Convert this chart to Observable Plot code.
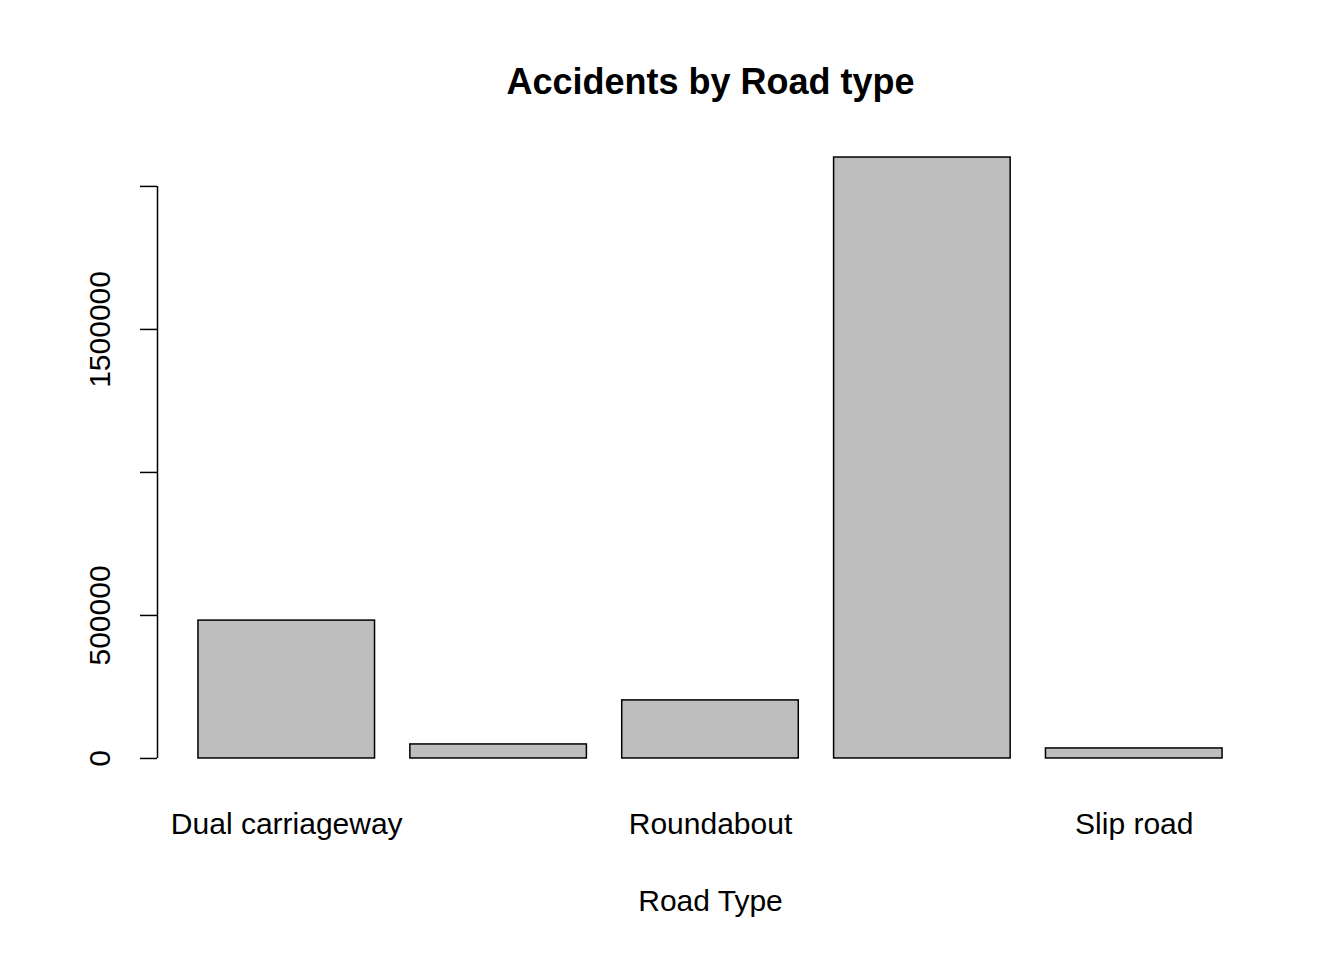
<!DOCTYPE html>
<html>
<head>
<meta charset="utf-8">
<script src="https://cdn.jsdelivr.net/npm/d3@7"></script>
<script src="https://cdn.jsdelivr.net/npm/@observablehq/plot@0.6"></script>
<style>
  body { margin: 0; background: #fff; }
</style>
</head>
<body>
<div id="chart"></div>
<script>
const roadTypes = ['Dual carriageway', 'One way street', 'Roundabout', 'Single carriageway', 'Slip road'];
const accidents = [482000, 49000, 203000, 2101000, 35000];
const yTicks = [0, 500000, 1000000, 1500000, 2000000];
const yTickLabels = ['0', '500000', '1500000'];
const shownLabels = ['Dual carriageway', 'Roundabout', 'Slip road'];

// R barplot layout: bar width 1, space 0.2
const data = roadTypes.map((t, i) => ({
  type: t,
  value: accidents[i],
  x1: 0.2 + i * 1.2,
  x2: 1.2 + i * 1.2,
  mid: 0.7 + i * 1.2
}));

const font = "'Liberation Sans', Arial, sans-serif";

const chart = Plot.plot({
  width: 1344,
  height: 960,
  marginLeft: 157,
  marginRight: 81,
  marginTop: 133,
  marginBottom: 178,
  style: { background: '#fff', color: '#000', fontFamily: font, fontSize: '30px' },
  x: { domain: [-0.032, 6.232], axis: null },
  y: { domain: [-84040, 2185040], axis: null },
  marks: [
    Plot.rect(data, { x1: 'x1', x2: 'x2', y1: 0, y2: 'value', fill: '#bebebe', stroke: '#000', strokeWidth: 1.5 }),
    // y axis
    Plot.ruleX([-0.032], { y1: 0, y2: 2000000, stroke: '#000', strokeWidth: 1.5 }),
    Plot.axisY({ ticks: yTicks, tickSize: 17, tickFormat: () => '', label: null, strokeWidth: 1.5 }),
    Plot.text(yTicks.filter(d => yTickLabels.includes(String(d))), {
      x: -0.032, y: d => d, text: d => String(d),
      rotate: -90, dx: -57, fontSize: 30, fill: '#000'
    }),
    // category labels
    Plot.text(data.filter(d => shownLabels.includes(d.type)), {
      x: 'mid', text: 'type', frameAnchor: 'bottom', dy: 51, fontSize: 30, fill: '#000'
    }),
    Plot.text(['Road Type'], { frameAnchor: 'bottom', dy: 128, fontSize: 30, fill: '#000' }),
    Plot.text(['Accidents by Road type'], { frameAnchor: 'top', dy: -65, fontSize: 36, fontWeight: 'bold', fill: '#000' })
  ]
});

document.getElementById('chart').appendChild(chart);
</script>
</body>
</html>
